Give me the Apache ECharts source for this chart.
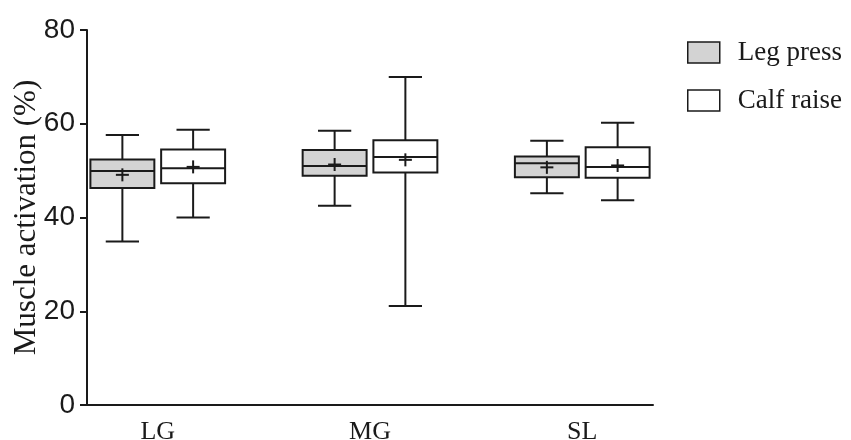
<!DOCTYPE html>
<html>
	<head>
		<title>Muscle activation</title>
		<meta charset="UTF-8">
		<script src="https://cdn.jsdelivr.net/npm/echarts@6/dist/echarts.min.js" type="text/javascript"></script>
		<style>
			html, body { margin: 0; padding: 0; background: #fff; }
		</style>
	</head>
	<body>
		<div id="box_chart" style="width:851px;height:440px"></div>
		<script type="text/javascript">
			// categories and the two exercises
			var muscles = ['LG', 'MG', 'SL'];
			var groups = ['Leg press', 'Calf raise'];
			var y_ticks = [0, 20, 40, 60, 80];

			// [whisker low, Q1, median, Q3, whisker high] per muscle
			var leg_press_box = [
				[34.9, 46.3, 49.9, 52.4, 57.6],
				[42.5, 48.9, 51.0, 54.4, 58.5],
				[45.2, 48.6, 51.6, 53.0, 56.4]
			];
			var calf_raise_box = [
				[40.0, 47.3, 50.5, 54.5, 58.7],
				[21.1, 49.6, 52.9, 56.5, 70.0],
				[43.7, 48.5, 50.8, 55.0, 60.2]
			];
			// means (the + marks)
			var leg_press_mean = [49.1, 51.3, 50.7];
			var calf_raise_mean = [50.8, 52.3, 51.1];

			var fills = ['#d3d3d3', '#ffffff'];
			var ink = '#1a1a1a';
			var serif = '"Liberation Serif", "Times New Roman", serif';
			var sans = '"Liberation Sans", Arial, sans-serif';

			// each muscle sits on x = 1, 4, 7 of a 0..8 axis
			function musclePos(i) { return i * 3 + 1; }

			function buildData(boxes, means) {
				return boxes.map(function (b, i) {
					return [musclePos(i)].concat(b).concat([means[i]]);
				});
			}

			function makeRender(side) {
				return function (params, api) {
					var unit = api.size([1, 0])[0];
					var x = api.value(0);
					var c = api.coord([x, 0])[0] + side * unit * 0.5;
					var half = unit * 0.452;
					var cap = unit * 0.235;
					var yLow = api.coord([x, api.value(1)])[1];
					var yQ1 = api.coord([x, api.value(2)])[1];
					var yMed = api.coord([x, api.value(3)])[1];
					var yQ3 = api.coord([x, api.value(4)])[1];
					var yHigh = api.coord([x, api.value(5)])[1];
					var yMean = api.coord([x, api.value(6)])[1];
					var line = { stroke: ink, lineWidth: 2 };
					var fill = fills[params.seriesIndex];
					return {
						type: 'group',
						children: [
							{ type: 'line', shape: { x1: c, y1: yHigh, x2: c, y2: yQ3 }, style: line },
							{ type: 'line', shape: { x1: c, y1: yQ1, x2: c, y2: yLow }, style: line },
							{ type: 'line', shape: { x1: c - cap, y1: yHigh, x2: c + cap, y2: yHigh }, style: line },
							{ type: 'line', shape: { x1: c - cap, y1: yLow, x2: c + cap, y2: yLow }, style: line },
							{ type: 'rect', shape: { x: c - half, y: yQ3, width: half * 2, height: yQ1 - yQ3 },
								style: { fill: fill, stroke: ink, lineWidth: 2 } },
							{ type: 'line', shape: { x1: c - half, y1: yMed, x2: c + half, y2: yMed }, style: line },
							{ type: 'line', shape: { x1: c - 6.5, y1: yMean, x2: c + 6.5, y2: yMean }, style: line },
							{ type: 'line', shape: { x1: c, y1: yMean - 6.5, x2: c, y2: yMean + 6.5 }, style: line }
						]
					};
				};
			}

			var box_option = {
				animation: false,
				grid: { left: 87, right: 198, top: 30, bottom: 35, containLabel: false, outerBoundsMode: 'none' },
				legend: {
					orient: 'vertical',
					left: 687,
					top: 39,
					padding: 0,
					itemWidth: 32,
					itemHeight: 21,
					itemGap: 21,
					textStyle: { fontFamily: serif, fontSize: 27, color: ink, lineHeight: 21, padding: [0, 0, 0, 13] },
					data: groups.map(function (g, i) {
						return { name: g, icon: 'rect', itemStyle: { color: fills[i], borderColor: ink, borderWidth: 1.5 } };
					})
				},
				xAxis: {
					type: 'value',
					min: 0,
					max: 8,
					interval: 1,
					splitLine: { show: false },
					axisTick: { show: false },
					axisLine: { show: true, onZero: false, lineStyle: { color: ink, width: 2 } },
					axisLabel: {
						margin: 14,
						fontFamily: serif,
						fontSize: 26,
						color: ink,
						formatter: function (v) {
							var i = (v - 1) / 3;
							return muscles[i] || '';
						}
					}
				},
				yAxis: {
					type: 'value',
					min: y_ticks[0],
					max: y_ticks[y_ticks.length - 1],
					interval: 20,
					name: 'Muscle activation (%)',
					nameLocation: 'middle',
					nameGap: 45,
					nameMoveOverlap: false,
					nameTextStyle: { fontFamily: serif, fontSize: 31, color: ink },
					splitLine: { show: false },
					axisLine: { show: true, lineStyle: { color: ink, width: 2 } },
					axisTick: { show: true, length: 7, lineStyle: { color: ink, width: 2 } },
					axisLabel: { margin: 12, fontFamily: sans, fontSize: 28, color: ink }
				},
				series: [
					{
						name: groups[0],
						type: 'custom',
						itemStyle: { color: fills[0], borderColor: ink },
						renderItem: makeRender(-1),
						encode: { x: 0, y: [1, 2, 3, 4, 5, 6] },
						data: buildData(leg_press_box, leg_press_mean)
					},
					{
						name: groups[1],
						type: 'custom',
						itemStyle: { color: fills[1], borderColor: ink },
						renderItem: makeRender(1),
						encode: { x: 0, y: [1, 2, 3, 4, 5, 6] },
						data: buildData(calf_raise_box, calf_raise_mean)
					}
				]
			};

			var box_chart = echarts.init(document.getElementById('box_chart'));
			box_chart.setOption(box_option);
		</script>
	</body>
</html>
